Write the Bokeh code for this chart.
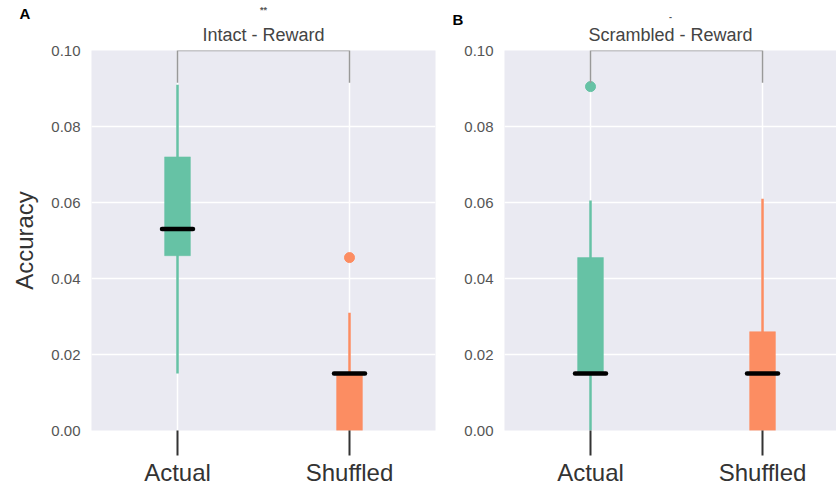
from bokeh.plotting import figure
from bokeh.layouts import row
from bokeh.models import FixedTicker, ColumnDataSource, Title
from bokeh.embed import file_html
from bokeh.resources import INLINE

# ---- data ----
categories = ["Actual", "Shuffled"]
colors = ["#66C2A5", "#FC8D62"]
y_ticks = [0.0, 0.02, 0.04, 0.06, 0.08, 0.10]
y_tick_labels = ["0.00", "0.02", "0.04", "0.06", "0.08", "0.10"]

# Panel A: Intact - Reward
a_title = "Intact - Reward"
a_sig = "**"
a_whisk_lo = [0.015, 0.0]
a_q1 = [0.046, 0.0]
a_median = [0.053, 0.015]
a_q3 = [0.072, 0.015]
a_whisk_hi = [0.091, 0.031]
a_outlier_cat = ["Shuffled"]
a_outlier_val = [0.0455]

# Panel B: Scrambled - Reward
b_title = "Scrambled - Reward"
b_sig = "-"
b_whisk_lo = [0.0, 0.0]
b_q1 = [0.015, 0.0]
b_median = [0.015, 0.015]
b_q3 = [0.0455, 0.026]
b_whisk_hi = [0.0605, 0.061]
b_outlier_cat = ["Actual"]
b_outlier_val = [0.0905]

bracket_top = 0.10
bracket_leg = 0.0915

FONT = "Liberation Sans"
BG = "#EAEAF2"


def make_panel(width, x_end, border_left, border_right, ylabel,
               lo, q1, med, q3, hi, out_cat, out_val,
               title, sig, letter, letter_offset, title_standoff,
               letter_standoff, sig_standoff):
    xs = list(range(len(categories)))
    p = figure(width=width, height=488, x_range=(-0.5, x_end), y_range=(0, 0.10),
               output_backend="svg", toolbar_location=None,
               min_border_left=border_left, min_border_right=border_right,
               min_border_top=50, min_border_bottom=57)
    p.background_fill_color = BG
    p.border_fill_color = "white"
    p.outline_line_color = None

    p.xgrid.ticker = FixedTicker(ticks=xs)
    p.ygrid.ticker = FixedTicker(ticks=y_ticks)
    p.grid.grid_line_color = "white"
    p.grid.grid_line_width = 1.5

    p.xaxis.ticker = FixedTicker(ticks=xs)
    p.xaxis.major_label_overrides = {i: c for i, c in enumerate(categories)}
    p.xaxis.axis_line_color = None
    p.xaxis.major_tick_in = 0
    p.xaxis.major_tick_out = 25
    p.xaxis.major_tick_line_color = "#333333"
    p.xaxis.major_tick_line_width = 2
    p.xaxis.minor_tick_line_color = None
    p.xaxis.major_label_text_font = FONT
    p.xaxis.major_label_text_font_size = "24px"
    p.xaxis.major_label_text_color = "#333333"
    p.xaxis.major_label_standoff = 3

    p.yaxis.ticker = FixedTicker(ticks=y_ticks)
    p.yaxis.major_label_overrides = {t: l for t, l in zip(y_ticks, y_tick_labels)}
    p.yaxis.axis_line_color = None
    p.yaxis.major_tick_line_color = None
    p.yaxis.minor_tick_line_color = None
    p.yaxis.major_label_text_font = FONT
    p.yaxis.major_label_text_font_size = "15px"
    p.yaxis.major_label_text_color = "#555555"
    p.yaxis.major_label_standoff = 5
    if ylabel:
        p.yaxis.axis_label = ylabel
        p.yaxis.axis_label_text_font = FONT
        p.yaxis.axis_label_text_font_style = "normal"
        p.yaxis.axis_label_text_font_size = "24px"
        p.yaxis.axis_label_text_color = "#333333"
        p.yaxis.axis_label_standoff = 10

    src = ColumnDataSource(dict(x=xs, lo=lo, q1=q1, med=med, q3=q3, hi=hi,
                                color=colors,
                                ml=[x - 0.09 for x in xs], mr=[x + 0.09 for x in xs]))
    p.segment(x0="x", y0="lo", x1="x", y1="hi", source=src, line_color="color",
              line_width=2.5)
    p.vbar(x="x", width=0.15, bottom="q1", top="q3", source=src, fill_color="color",
           line_color="color", line_width=0.5)
    p.segment(x0="ml", y0="med", x1="mr", y1="med", source=src, line_color="black",
              line_width=4.5, line_cap="round")
    ox = [categories.index(c) for c in out_cat]
    oc = [colors[categories.index(c)] for c in out_cat]
    p.scatter(x=ox, y=out_val, size=10, fill_color=oc, line_color=oc)

    p.line(x=[xs[0], xs[0], xs[1], xs[1]],
           y=[bracket_leg, bracket_top, bracket_top, bracket_leg],
           line_color="#999999", line_width=1.5)

    # titles stacked above the frame: first added sits closest
    p.add_layout(Title(text=title, align="center", text_font=FONT,
                       text_font_size="18px", text_font_style="normal",
                       text_color="#444444", standoff=title_standoff), "above")
    p.add_layout(Title(text=letter, align="left", offset=letter_offset,
                       text_font=FONT, text_font_size="15px", text_font_style="bold",
                       text_color="black", standoff=letter_standoff), "above")
    p.add_layout(Title(text=sig, align="center", text_font=FONT,
                       text_font_size="9px", text_font_style="bold",
                       text_color="#555555", standoff=sig_standoff), "above")
    return p


pa = make_panel(440, 1.5, 91, 5, "Accuracy", a_whisk_lo, a_q1, a_median, a_q3,
                a_whisk_hi, a_outlier_cat, a_outlier_val,
                a_title, a_sig, "A", -72, 11, -9, -14)
pb = make_panel(396, 1.43, 64, 0, None, b_whisk_lo, b_q1, b_median, b_q3,
                b_whisk_hi, b_outlier_cat, b_outlier_val,
                b_title, b_sig, "B", -52, 11, -20, -4)

layout = row(pa, pb)
open("out.html", "w").write(file_html(layout, INLINE))
